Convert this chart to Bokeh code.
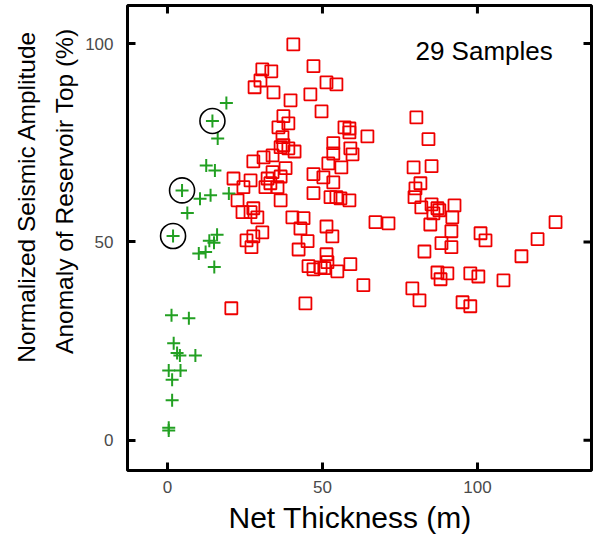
import math
from bokeh.plotting import figure
from bokeh.models import Range1d, FixedTicker, Title, Label
from bokeh.embed import file_html
from bokeh.resources import INLINE

# Net thickness (m) / normalized amplitude (%) -- red squares
red_x = [40.6, 30.6, 33.5, 30.0, 28.1, 34.2, 39.7, 37.4, 39.0, 35.8, 37.1, 37.4, 36.5, 39.0, 41.0,
         33.9, 31.0, 27.7, 38.1, 33.9, 36.5, 21.3, 26.8, 32.3, 24.5, 33.2, 31.6, 35.5, 36.5, 22.6,
         24.2, 26.8, 27.7, 29.0, 30.6, 27.7, 25.5, 27.1, 20.6,
         47.1, 51.3, 54.5, 46.1, 49.7, 57.1, 58.7, 58.7, 64.5, 53.5, 59.0, 59.7, 53.5, 51.9, 56.1,
         47.1, 50.3, 53.5, 47.1, 52.6, 54.5, 55.8, 58.7, 40.3, 43.9, 42.9, 51.3, 53.2, 45.2, 42.3,
         51.3, 51.6, 45.5, 47.1, 49.4, 50.6, 54.8, 59.0, 63.2, 44.5, 67.1, 71.3,
         80.3, 84.2, 79.4, 85.2, 81.6, 80.0, 79.7, 81.9, 85.2, 87.1, 87.7, 85.8, 92.6, 91.9, 84.8,
         91.6, 88.4, 91.6, 82.9, 87.1, 90.3, 88.1, 97.7, 100.3, 79.0, 81.3, 95.2, 97.7, 101.0, 102.6,
         125.2, 119.4, 114.2, 108.4]
red_y = [99.8, 93.5, 93.0, 90.7, 89.0, 87.7, 85.7, 81.7, 79.9, 78.9, 76.4, 74.4, 73.9, 73.6, 72.8,
         71.8, 71.3, 70.3, 68.6, 67.6, 66.5, 66.0, 65.5, 66.0, 63.8, 64.8, 63.8, 63.8, 60.5, 60.5,
         57.5, 57.5, 58.5, 56.2, 52.4, 51.4, 50.4, 48.7, 33.3,
         94.3, 90.2, 89.7, 87.2, 82.9, 78.9, 78.6, 77.6, 76.6, 74.9, 73.6, 72.1, 72.3, 69.8, 68.8,
         67.1, 66.3, 65.0, 62.3, 61.3, 61.3, 61.0, 60.5, 56.2, 56.0, 53.4, 53.9, 51.4, 50.2, 48.1,
         46.9, 44.9, 43.9, 43.1, 43.6, 43.4, 42.6, 44.4, 39.1, 34.5, 55.0, 54.7,
         81.4, 75.9, 68.8, 69.1, 64.8, 63.5, 61.3, 58.7, 59.5, 58.5, 58.0, 57.2, 59.2, 56.2, 54.4,
         52.7, 49.7, 48.7, 47.6, 42.3, 42.1, 40.6, 42.1, 41.3, 38.3, 35.3, 34.8, 33.8, 52.2, 50.4,
         55.0, 50.7, 46.4, 40.3]

# green crosses (29 samples)
green_x = [19.0, 14.5, 16.2, 12.5, 15.3, 4.7, 10.5, 13.9, 19.8, 6.4, 1.8, 16.0, 13.5, 15.0, 12.3,
           10.1, 15.1, 1.3, 6.9, 2.0, 3.1, 4.0, 9.0, 0.4, 4.2, 1.5, 1.5, 0.4, 0.4]
green_y = [85.0, 80.5, 76.1, 69.3, 68.0, 63.0, 60.9, 61.8, 62.2, 57.3, 51.5, 51.8, 50.3, 49.8, 47.5,
           47.1, 43.7, 31.5, 30.8, 24.5, 22.0, 21.4, 21.4, 17.6, 17.6, 15.3, 10.1, 3.2, 2.5]

# circled samples
circ_x = [14.5, 4.7, 1.8]
circ_y = [80.5, 63.0, 51.5]

x_ticks = [0, 50, 100]
y_ticks = [0, 50, 100]
x_limits = [-12.9, 136.8]
y_limits = [-7.6, 109.6]
samples_text = "29 Samples"
x_label = "Net Thickness (m)"
y_label_1 = "Normalized Seismic Amplitude"
y_label_2 = "Anomaly of Reservoir Top (%)"

FONT = "Liberation Sans"

p = figure(width=593, height=541, output_backend="svg", toolbar_location=None,
           x_range=Range1d(*x_limits), y_range=Range1d(*y_limits),
           min_border_left=127, min_border_right=2, min_border_top=5, min_border_bottom=71)
p.xgrid.visible = False
p.ygrid.visible = False
p.outline_line_color = "black"
p.outline_line_width = 3
p.outline_line_alpha = 1.0
p.background_fill_color = "white"
p.border_fill_color = "white"

for ax, ticks in ((p.xaxis[0], x_ticks), (p.yaxis[0], y_ticks)):
    ax.ticker = FixedTicker(ticks=ticks)
    ax.major_tick_in = 8
    ax.major_tick_out = 0
    ax.major_tick_line_width = 3
    ax.major_tick_line_color = "black"
    ax.minor_tick_line_color = None
    ax.axis_line_color = None
    ax.major_label_text_font = FONT
    ax.major_label_text_color = "#4a4a4a"
    ax.major_label_text_font_size = "17px"

p.xaxis.major_label_standoff = 10
p.yaxis.major_label_standoff = 14

# mirrored inward ticks on the top and right frame edges
p.ray(x=x_ticks, y=[y_limits[1]] * len(x_ticks), length=8, length_units="screen",
      angle=-math.pi / 2, line_color="black", line_width=3)
p.ray(x=[x_limits[1]] * len(y_ticks), y=y_ticks, length=8, length_units="screen",
      angle=math.pi, line_color="black", line_width=3)

t_inner = Title(text=y_label_2, align="right", offset=23, text_font=FONT,
                text_font_size="24.5px", text_font_style="normal", text_color="black",
                standoff=9)
t_outer = Title(text=y_label_1, align="right", offset=25, text_font=FONT,
                text_font_size="24.5px", text_font_style="normal", text_color="black",
                standoff=9)
p.add_layout(t_inner, "left")
p.add_layout(t_outer, "left")

t_x = Title(text=x_label, align="left", offset=101, text_font=FONT,
            text_font_size="30px", text_font_style="normal", text_color="black",
            standoff=6)
p.add_layout(t_x, "below")

p.scatter(red_x, red_y, marker="square", size=12, fill_color=None,
          line_color="#ee0000", line_width=1.8)
p.scatter(green_x, green_y, marker="cross", size=13, line_color="#22a022", line_width=2)
p.scatter(circ_x, circ_y, marker="circle", size=25, fill_color=None,
          line_color="black", line_width=1.6)

p.add_layout(Label(x=80, y=98.2, text=samples_text, text_font=FONT, text_font_size="26px",
                   text_baseline="alphabetic", text_align="left", text_color="black"))

open("out.html", "w").write(file_html(p, INLINE))
